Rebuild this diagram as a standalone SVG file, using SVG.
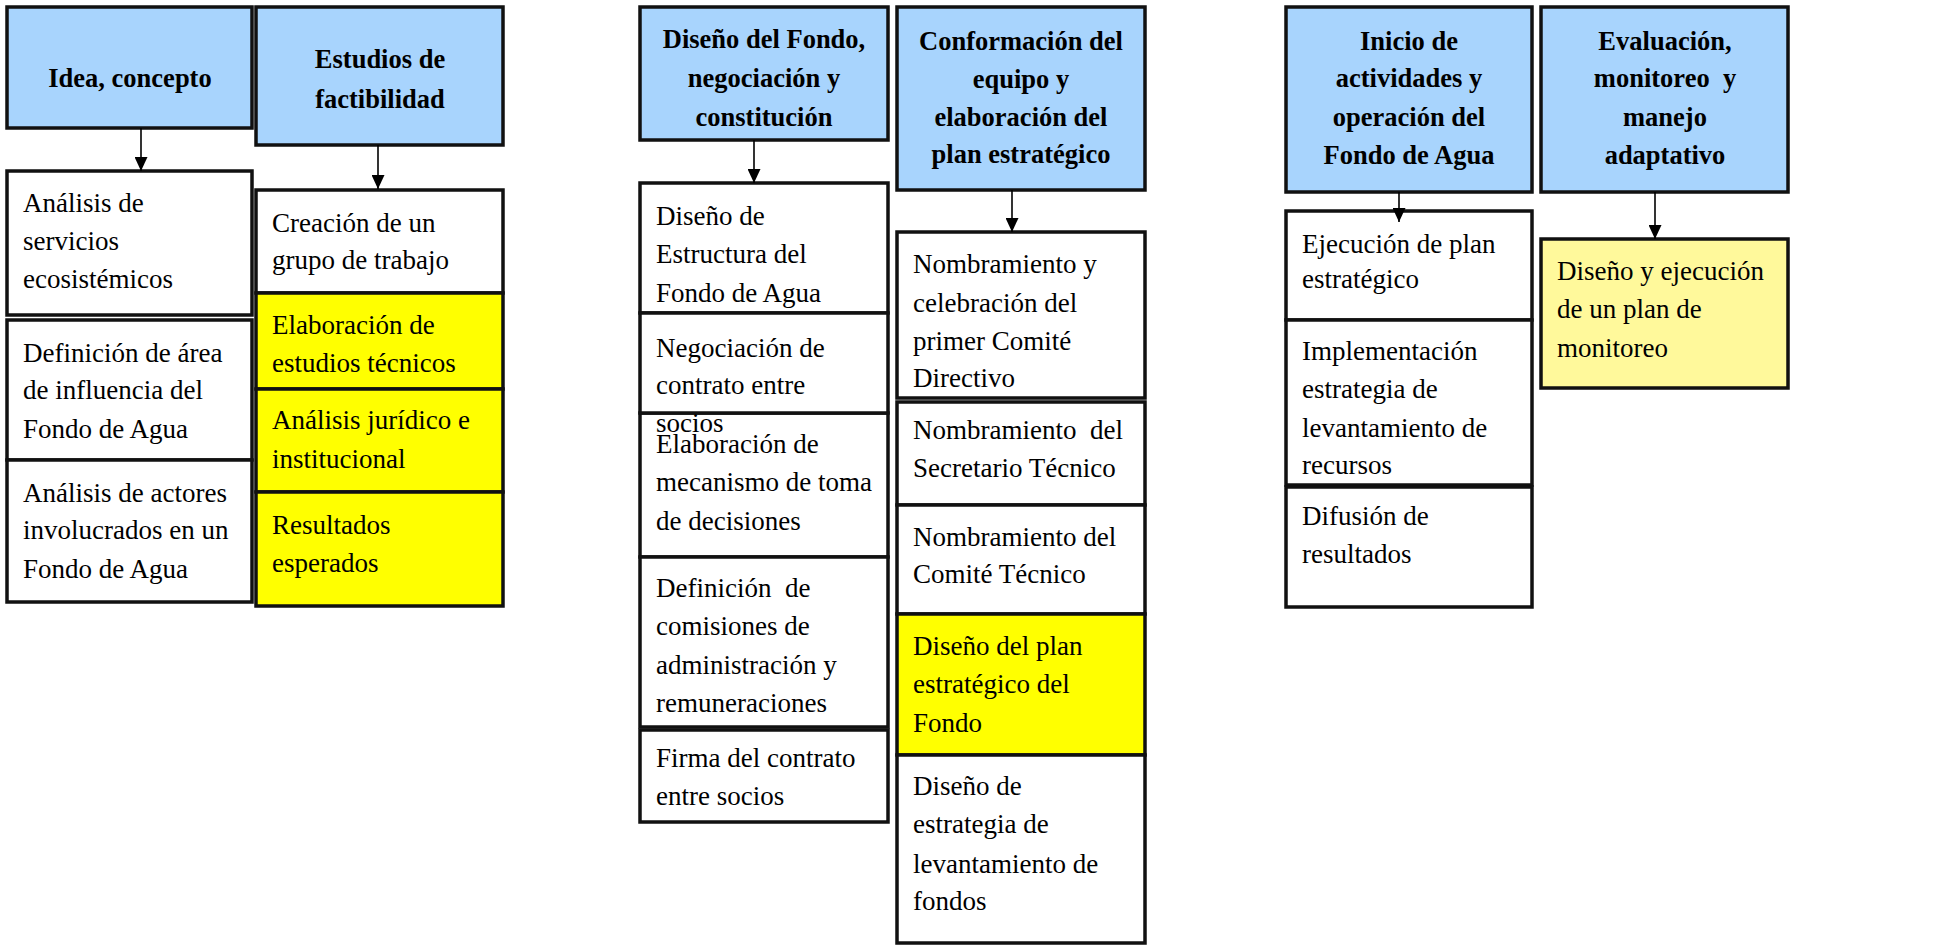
<svg xmlns="http://www.w3.org/2000/svg" width="1933" height="945" viewBox="0 0 1933 945">
<style>
.b{stroke:#111;stroke-width:3.5;}
.h{fill:#A8D4FD;}
.w{fill:#fff;}
.y{fill:#FFFF00;}
.ly{fill:#FFF99B;}
text{font-family:"Liberation Serif","DejaVu Serif",serif;font-size:27px;fill:#000;}
.t{font-weight:bold;font-size:26.5px;text-anchor:middle;}
.c line{stroke:#000;stroke-width:1.6;}
</style>
<defs>
<marker id="ar" markerUnits="userSpaceOnUse" markerWidth="14" markerHeight="13" viewBox="0 0 14 13" refX="14" refY="6.5" orient="auto">
<path d="M0,0 L14,6.5 L0,13 z" fill="#000"/>
</marker>
</defs>
<rect width="1933" height="945" fill="#fff"/>

<!-- Column 1 -->
<g id="h1"><rect class="b h" x="7" y="7" width="245" height="121"/><text class="t" x="130" y="87">Idea, concepto</text></g>
<g id="c1a"><rect class="b w" x="7" y="171" width="245" height="144"/><text x="23" y="212">Análisis de</text><text x="23" y="250">servicios</text><text x="23" y="288">ecosistémicos</text></g>
<g id="c1b"><rect class="b w" x="7" y="320" width="245" height="140"/><text x="23" y="362">Definición de área</text><text x="23" y="399">de influencia del</text><text x="23" y="438">Fondo de Agua</text></g>
<g id="c1c"><rect class="b w" x="7" y="460" width="245" height="142"/><text x="23" y="502">Análisis de actores</text><text x="23" y="539">involucrados en un</text><text x="23" y="578">Fondo de Agua</text></g>

<!-- Column 2 -->
<g id="h2"><rect class="b h" x="256" y="7" width="247" height="138"/><text class="t" x="380" y="68">Estudios de</text><text class="t" x="380" y="108">factibilidad</text></g>
<g id="c2a"><rect class="b w" x="256" y="190" width="247" height="103"/><text x="272" y="232">Creación de un</text><text x="272" y="269">grupo de trabajo</text></g>
<g id="c2b"><rect class="b y" x="256" y="293" width="247" height="96"/><text x="272" y="334">Elaboración de</text><text x="272" y="372">estudios técnicos</text></g>
<g id="c2c"><rect class="b y" x="256" y="389" width="247" height="103"/><text x="272" y="429">Análisis jurídico e</text><text x="272" y="468">institucional</text></g>
<g id="c2d"><rect class="b y" x="256" y="492" width="247" height="114"/><text x="272" y="534">Resultados</text><text x="272" y="572">esperados</text></g>

<!-- Column 3 -->
<g id="h3"><rect class="b h" x="640" y="7" width="248" height="133"/><text class="t" x="764" y="48">Diseño del Fondo,</text><text class="t" x="764" y="87">negociación y</text><text class="t" x="764" y="126">constitución</text></g>
<g id="c3a"><rect class="b w" x="640" y="183" width="248" height="130"/><text x="656" y="225">Diseño de</text><text x="656" y="263">Estructura del</text><text x="656" y="302">Fondo de Agua</text></g>
<g id="c3c"><rect class="b w" x="640" y="413" width="248" height="144"/><text x="656" y="453">Elaboración de</text><text x="656" y="491">mecanismo de toma</text><text x="656" y="530">de decisiones</text></g>
<g id="c3b"><rect class="b w" x="640" y="313" width="248" height="100"/><text x="656" y="357">Negociación de</text><text x="656" y="394">contrato entre</text><text x="656" y="432">socios</text></g>
<g id="c3d"><rect class="b w" x="640" y="557" width="248" height="170"/><text x="656" y="597" xml:space="preserve">Definición  de</text><text x="656" y="635">comisiones de</text><text x="656" y="674">administración y</text><text x="656" y="712">remuneraciones</text></g>
<g id="c3e"><rect class="b w" x="640" y="730" width="248" height="92"/><text x="656" y="767">Firma del contrato</text><text x="656" y="805">entre socios</text></g>

<!-- Column 4 -->
<g id="h4"><rect class="b h" x="897" y="7" width="248" height="183"/><text class="t" x="1021" y="50">Conformación del</text><text class="t" x="1021" y="88">equipo y</text><text class="t" x="1021" y="126">elaboración del</text><text class="t" x="1021" y="163">plan estratégico</text></g>
<g id="c4a"><rect class="b w" x="897" y="232" width="248" height="166"/><text x="913" y="273">Nombramiento y</text><text x="913" y="312">celebración del</text><text x="913" y="350">primer Comité</text><text x="913" y="387">Directivo</text></g>
<g id="c4b"><rect class="b w" x="897" y="402" width="248" height="103"/><text x="913" y="439" xml:space="preserve">Nombramiento  del</text><text x="913" y="477">Secretario Técnico</text></g>
<g id="c4c"><rect class="b w" x="897" y="505" width="248" height="109"/><text x="913" y="546">Nombramiento del</text><text x="913" y="583">Comité Técnico</text></g>
<g id="c4d"><rect class="b y" x="897" y="614" width="248" height="141"/><text x="913" y="655">Diseño del plan</text><text x="913" y="693">estratégico del</text><text x="913" y="732">Fondo</text></g>
<g id="c4e"><rect class="b w" x="897" y="755" width="248" height="188"/><text x="913" y="795">Diseño de</text><text x="913" y="833">estrategia de</text><text x="913" y="873">levantamiento de</text><text x="913" y="910">fondos</text></g>

<!-- Column 5 -->
<g id="h5"><rect class="b h" x="1286" y="7" width="246" height="185"/><text class="t" x="1409" y="50">Inicio de</text><text class="t" x="1409" y="87">actividades y</text><text class="t" x="1409" y="126">operación del</text><text class="t" x="1409" y="164">Fondo de Agua</text></g>
<g id="c5a"><rect class="b w" x="1286" y="211" width="246" height="109"/><text x="1302" y="253">Ejecución de plan</text><text x="1302" y="288">estratégico</text></g>
<g id="c5b"><rect class="b w" x="1286" y="320" width="246" height="165"/><text x="1302" y="360">Implementación</text><text x="1302" y="398">estrategia de</text><text x="1302" y="437">levantamiento de</text><text x="1302" y="474">recursos</text></g>
<g id="c5c"><rect class="b w" x="1286" y="487" width="246" height="120"/><text x="1302" y="525">Difusión de</text><text x="1302" y="563">resultados</text></g>

<!-- Column 6 -->
<g id="h6"><rect class="b h" x="1541" y="7" width="247" height="185"/><text class="t" x="1665" y="50">Evaluación,</text><text class="t" x="1665" y="87" xml:space="preserve">monitoreo  y</text><text class="t" x="1665" y="126">manejo</text><text class="t" x="1665" y="164">adaptativo</text></g>
<g id="c6a"><rect class="b ly" x="1541" y="239" width="247" height="149"/><text x="1557" y="280">Diseño y ejecución</text><text x="1557" y="318">de un plan de</text><text x="1557" y="357">monitoreo</text></g>

<g id="connectors" class="c">
<line x1="141" y1="128" x2="141" y2="171" marker-end="url(#ar)"/>
<line x1="378" y1="145" x2="378" y2="189" marker-end="url(#ar)"/>
<line x1="754" y1="140" x2="754" y2="183" marker-end="url(#ar)"/>
<line x1="1012" y1="190" x2="1012" y2="232" marker-end="url(#ar)"/>
<line x1="1399" y1="192" x2="1399" y2="222" marker-end="url(#ar)"/>
<line x1="1655" y1="192" x2="1655" y2="239" marker-end="url(#ar)"/>
</g>
</svg>
